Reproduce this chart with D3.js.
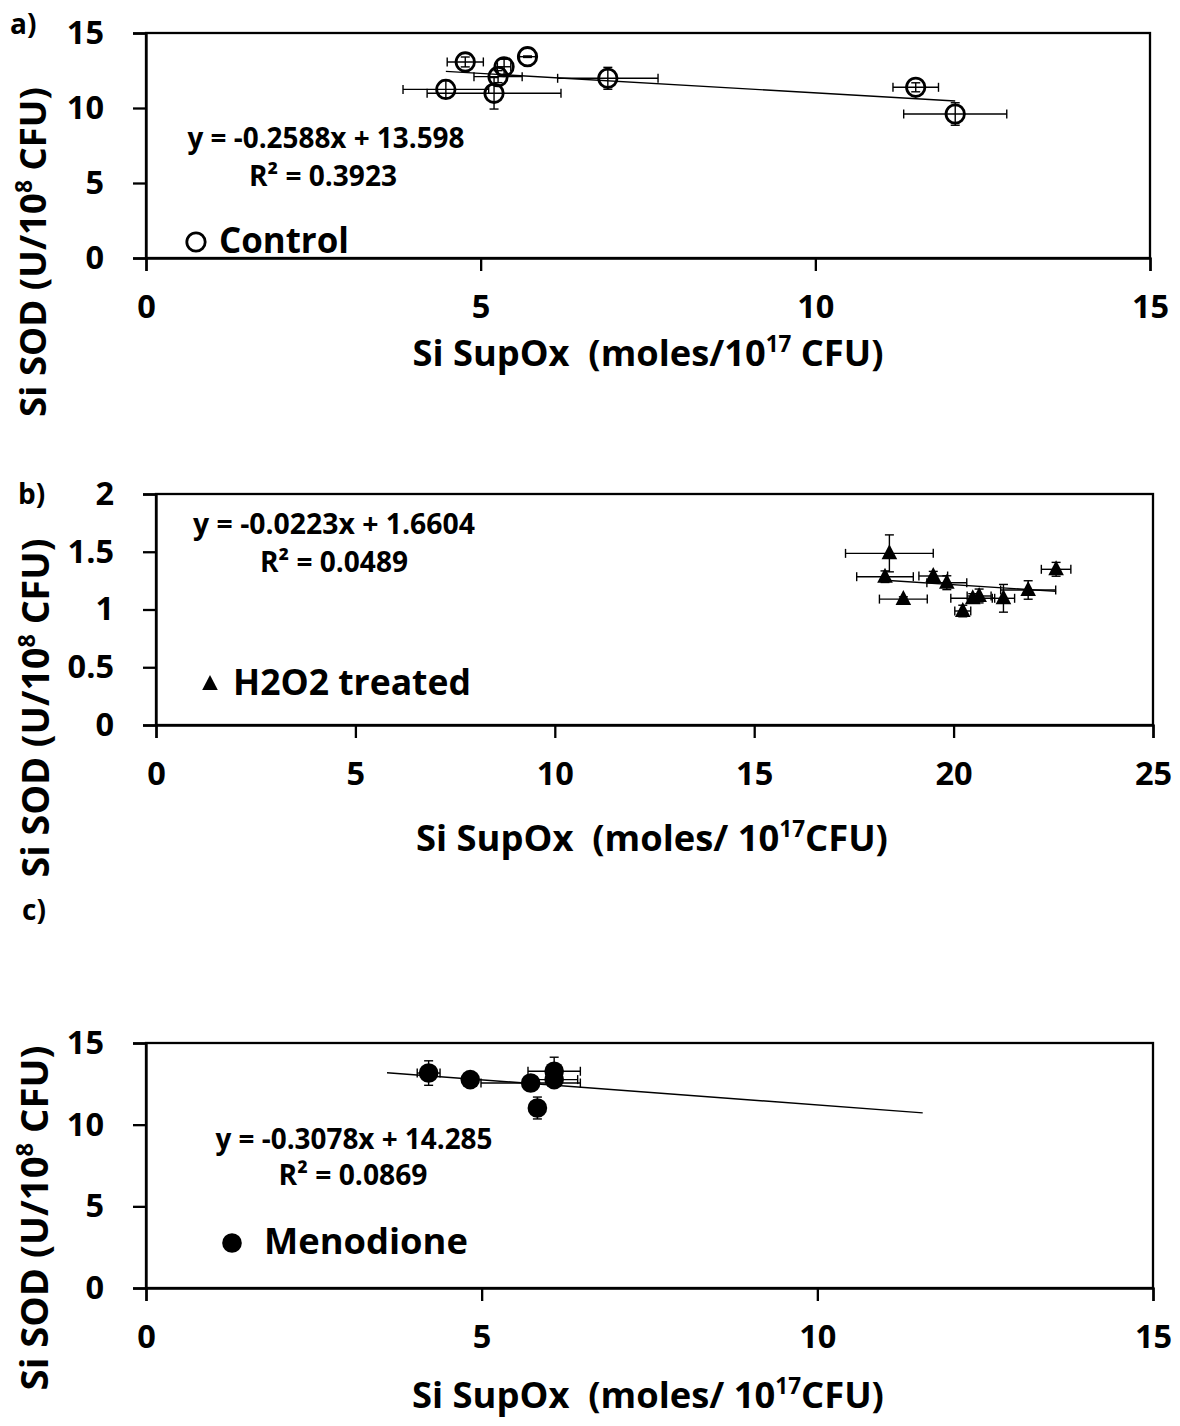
<!DOCTYPE html>
<html><head><meta charset="utf-8">
<script src="https://cdn.jsdelivr.net/npm/d3@7"></script>
<style>
body{margin:0;background:#fff;}
text{font-family:"Open Sans",Lato,sans-serif;font-weight:bold;fill:#000;white-space:pre;}
</style></head>
<body><svg id="chart" width="1180" height="1426"></svg>
<script>
// ---- Panel a: Control ----
const ctrlX    = [4.77, 5.70, 5.35, 5.26, 4.48, 5.20, 6.90, 11.50, 12.09];
const ctrlY    = [13.07, 13.42, 12.75, 12.09, 11.24, 10.98, 11.98, 11.38, 9.60];
const ctrlXErr = [0.27, 0.12, 0.10, 0.36, 0.64, 1.00, 0.75, 0.34, 0.77];
const ctrlYErr = [0.33, 0.05, 0.50, 0.40, 0.60, 1.05, 0.73, 0.30, 0.75];
const ctrlFit  = {slope: -0.2588, intercept: 13.598, from: 4.48, to: 12.09};
// ---- Panel b: H2O2 treated ----
const h2o2X    = [18.39, 18.28, 18.74, 19.49, 19.83, 20.23, 20.48, 20.64, 21.25, 21.87, 22.57];
const h2o2Y    = [1.486, 1.284, 1.09, 1.29, 1.232, 0.987, 1.097, 1.117, 1.097, 1.169, 1.348];
const h2o2XErr = [1.10, 0.71, 0.60, 0.36, 0.50, 0.20, 0.55, 0.30, 0.28, 0.69, 0.37];
const h2o2YErr = [0.16, 0.05, 0.02, 0.04, 0.06, 0.05, 0.04, 0.06, 0.12, 0.08, 0.06];
const h2o2Fit  = {slope: -0.0223, intercept: 1.6604, from: 18.28, to: 22.57};
// ---- Panel c: Menodione ----
const menoX    = [4.21, 4.83, 5.73, 5.83, 6.08, 6.08];
const menoY    = [13.16, 12.76, 12.55, 11.02, 13.27, 12.76];
const menoXErr = [0.17, 0.05, 0.74, 0.05, 0.39, 0.35];
const menoYErr = [0.75, 0.10, 0.10, 0.67, 0.86, 0.20];
const menoFit  = {slope: -0.3078, intercept: 14.285, from: 3.59, to: 11.57};
// ---- tick labels ----
const ticksA_X = [0, 5, 10, 15];
const ticksA_Y = [0, 5, 10, 15];
const ticksB_X = [0, 5, 10, 15, 20, 25];
const ticksB_Y = [0, 0.5, 1, 1.5, 2];
const ticksC_X = [0, 5, 10, 15];
const ticksC_Y = [0, 5, 10, 15];

const svg = d3.select("#chart");

function fitWidth(sel, target){
  const w = sel.node().getComputedTextLength();
  const fs = +sel.attr("font-size");
  sel.attr("font-size", fs*target/w);
  return sel;
}

function panel(cfg){
  const x = d3.scaleLinear().domain(cfg.xDomain).range([cfg.left, cfg.right]);
  const y = d3.scaleLinear().domain(cfg.yDomain).range([cfg.bottom, cfg.top]);
  const g = svg.append("g");
  g.append("rect").attr("x", cfg.left).attr("y", cfg.top)
    .attr("width", cfg.right-cfg.left).attr("height", cfg.bottom-cfg.top)
    .attr("fill","none").attr("stroke","#000").attr("stroke-width",2.3);
  const xa = g.append("g").attr("transform",`translate(0,${cfg.bottom})`)
    .call(d3.axisBottom(x).tickValues(cfg.xTicks).tickSize(13).tickPadding(25).tickFormat(d3.format("")));
  const ya = g.append("g").attr("transform",`translate(${cfg.left},0)`)
    .call(d3.axisLeft(y).tickValues(cfg.yTicks).tickSize(13).tickPadding(29).tickFormat(d3.format("")));
  [xa,ya].forEach(a=>{
    a.select(".domain").attr("stroke","#000").attr("stroke-width",2.3);
    a.selectAll(".tick line").attr("stroke","#000").attr("stroke-width",2.3);
    a.selectAll(".tick text").attr("font-size",32.5).attr("font-family","Open Sans").attr("font-weight","bold").attr("fill","#000");
  });
  xa.selectAll(".tick text").attr("dy","0.68em");
  const eb = g.append("g").attr("stroke","#000").attr("stroke-width",1.4);
  const cap = 4.5;
  cfg.xs.forEach((xv,i)=>{
    const yv = cfg.ys[i], ex = cfg.xe[i], ey = cfg.ye[i];
    const cx = x(xv), cy = y(yv);
    const x0 = x(xv-ex), x1 = x(xv+ex), y0 = y(yv-ey), y1 = y(yv+ey);
    eb.append("line").attr("x1",x0).attr("x2",x1).attr("y1",cy).attr("y2",cy);
    eb.append("line").attr("x1",x0).attr("x2",x0).attr("y1",cy-cap).attr("y2",cy+cap);
    eb.append("line").attr("x1",x1).attr("x2",x1).attr("y1",cy-cap).attr("y2",cy+cap);
    eb.append("line").attr("x1",cx).attr("x2",cx).attr("y1",y0).attr("y2",y1);
    eb.append("line").attr("x1",cx-cap).attr("x2",cx+cap).attr("y1",y0).attr("y2",y0);
    eb.append("line").attr("x1",cx-cap).attr("x2",cx+cap).attr("y1",y1).attr("y2",y1);
  });
  const f = cfg.fit;
  g.append("line").attr("x1",x(f.from)).attr("y1",y(f.slope*f.from+f.intercept))
    .attr("x2",x(f.to)).attr("y2",y(f.slope*f.to+f.intercept))
    .attr("stroke","#000").attr("stroke-width",1.4);
  const mk = g.append("g");
  cfg.xs.forEach((xv,i)=>{ cfg.marker(mk, x(xv), y(cfg.ys[i])); });
  // equation
  fitWidth(g.append("text").attr("x",cfg.eq[0]).attr("y",cfg.eq[1]).attr("text-anchor","middle")
    .attr("font-size",22).text(`y = ${f.slope}x + ${f.intercept}`), cfg.eq[2]);
  fitWidth(g.append("text").attr("x",cfg.r2[0]).attr("y",cfg.r2[1]).attr("text-anchor","middle")
    .attr("font-size",22).text(`R² = ${cfg.r2v}`), cfg.r2[2]);
  // legend
  cfg.marker(mk, cfg.leg[0], cfg.leg[1]);
  fitWidth(g.append("text").attr("x",cfg.leg[2]).attr("y",cfg.leg[1]+11).attr("font-size",30).text(cfg.legText), cfg.leg[3]);
  // panel label
  g.append("text").attr("x",cfg.lab[0]).attr("y",cfg.lab[1]).attr("font-size",28).text(cfg.label);
  // x title
  const xt = g.append("text").attr("x",cfg.xt[0]).attr("y",cfg.xt[1]).attr("text-anchor","middle").attr("font-size",30);
  xt.append("tspan").text(cfg.xTitle[0]);
  xt.append("tspan").attr("font-size","0.62em").attr("dy","-0.62em").text("17");
  xt.append("tspan").attr("dy","0.385em").text(cfg.xTitle[1]);
  fitWidth(xt, cfg.xt[2]);
  // y title
  const yt = g.append("text").attr("transform",`translate(${cfg.yt[0]},${cfg.yt[1]}) rotate(-90)`)
    .attr("text-anchor","middle").attr("font-size",30);
  yt.append("tspan").text("Si SOD (U/10");
  yt.append("tspan").attr("font-size","0.62em").attr("dy","-0.62em").text("8");
  yt.append("tspan").attr("dy","0.385em").text(" CFU)");
  fitWidth(yt, cfg.yt[2]);
}

const openCircle = (g,cx,cy)=>g.append("circle").attr("cx",cx).attr("cy",cy).attr("r",9.2)
  .attr("fill","none").attr("stroke","#000").attr("stroke-width",2.8);
const filledCircle = (g,cx,cy)=>g.append("circle").attr("cx",cx).attr("cy",cy).attr("r",9.8).attr("fill","#000");
const triangle = (g,cx,cy)=>g.append("path").attr("transform",`translate(${cx},${cy})`)
  .attr("d","M0,-9 L7.8,6 L-7.8,6 Z").attr("fill","#000");

panel({left:146,right:1150,top:33,bottom:258,xDomain:[0,15],yDomain:[0,15],xTicks:ticksA_X,yTicks:ticksA_Y,
  xs:ctrlX,ys:ctrlY,xe:ctrlXErr,ye:ctrlYErr,fit:ctrlFit,marker:openCircle,r2v:"0.3923",
  eq:[326,148,277],r2:[323,186,148],leg:[196,242,219,130],legText:"Control",lab:[10,34],label:"a)",
  xt:[648,366,471],xTitle:["Si SupOx  (moles/10"," CFU)"],yt:[46,252,330]});
panel({left:156,right:1153,top:494,bottom:725,xDomain:[0,25],yDomain:[0,2],xTicks:ticksB_X,yTicks:ticksB_Y,
  xs:h2o2X,ys:h2o2Y,xe:h2o2XErr,ye:h2o2YErr,fit:h2o2Fit,marker:triangle,r2v:"0.0489",
  eq:[334,534,282],r2:[334,572,148],leg:[210,684,233,238],legText:"H2O2 treated",lab:[18,504],label:"b)",
  xt:[652,851,472],xTitle:["Si SupOx  (moles/ 10","CFU)"],yt:[49,708,339]});
panel({left:146,right:1153,top:1043,bottom:1288,xDomain:[0,15],yDomain:[0,15],xTicks:ticksC_X,yTicks:ticksC_Y,
  xs:menoX,ys:menoY,xe:menoXErr,ye:menoYErr,fit:menoFit,marker:filledCircle,r2v:"0.0869",
  eq:[354,1149,277],r2:[353,1185,149],leg:[232,1243,264,204],legText:"Menodione",lab:[22,920],label:"c)",
  xt:[648,1408,472],xTitle:["Si SupOx  (moles/ 10","CFU)"],yt:[48,1218,345]});
</script></body></html>
